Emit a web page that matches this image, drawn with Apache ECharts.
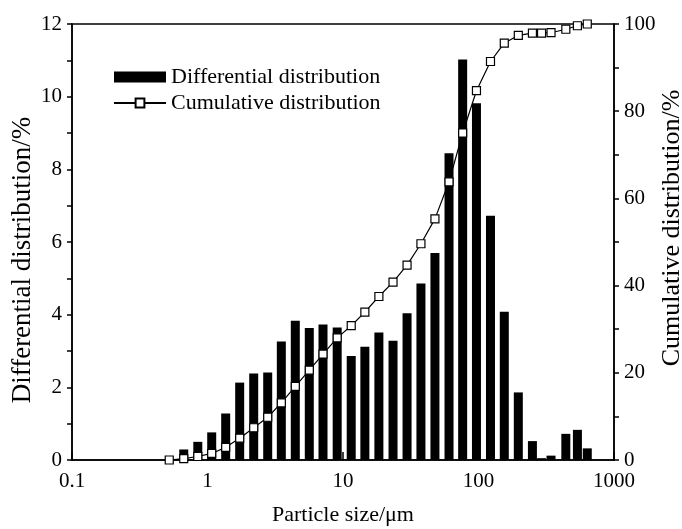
<!DOCTYPE html>
<html>
<head>
<meta charset="utf-8">
<script src="https://cdn.jsdelivr.net/npm/echarts@6/dist/echarts.min.js"></script>
<style>html,body{margin:0;padding:0;background:#fff;}#c{width:682px;height:529px;}</style>
</head>
<body>
<div id="c"></div>
<script>
// Particle sizes (µm) of the bars
const barSizes = [0.668, 0.848, 1.074, 1.362, 1.728, 2.193, 2.782, 3.506, 4.446, 5.64, 7.12, 9.06, 11.5, 14.5, 18.4, 23.4, 29.7, 37.6, 47.7, 60.6, 76.4, 96.6, 122.6, 155, 196.7, 250, 292, 343, 441, 537, 635];
// Differential distribution (%)
const diffValues = [0.29, 0.50, 0.76, 1.28, 2.13, 2.38, 2.41, 3.26, 3.83, 3.63, 3.73, 3.65, 2.86, 3.12, 3.51, 3.28, 4.04, 4.86, 5.70, 8.44, 11.02, 9.82, 6.72, 4.08, 1.86, 0.52, 0.05, 0.12, 0.72, 0.83, 0.32];
// Particle sizes (µm) of the cumulative markers
const cumSizes = [0.522, 0.668, 0.848, 1.074, 1.362, 1.728, 2.193, 2.782, 3.506, 4.446, 5.64, 7.12, 9.06, 11.5, 14.5, 18.4, 23.4, 29.7, 37.6, 47.7, 60.6, 76.4, 96.6, 122.6, 155, 196.7, 250, 292, 343, 441, 537, 635];
// Cumulative distribution (%)
const cumValues = [0, 0.3, 0.8, 1.5, 2.9, 5.0, 7.4, 9.8, 13.1, 16.9, 20.6, 24.3, 28.0, 30.8, 33.9, 37.5, 40.8, 44.7, 49.6, 55.3, 63.8, 75.0, 84.7, 91.4, 95.6, 97.4, 97.9, 97.9, 98.0, 98.8, 99.6, 100];
const xTickLabels = {0.1: '0.1', 1: '1', 10: '10', 100: '100', 1000: '1000'};

const FONT = "'Liberation Serif', 'Times New Roman', serif";
const chart = echarts.init(document.getElementById('c'), null, {renderer: 'canvas'});

const barData = barSizes.map((s, i) => [s, diffValues[i]]);
const cumData = cumSizes.map((s, i) => [s, cumValues[i]]);

const axisCommon = {
  axisLine: {show: true, lineStyle: {color: '#000', width: 1.5}},
  splitLine: {show: false},
  nameMoveOverlap: false,
  axisLabel: {color: '#000', fontFamily: FONT, fontSize: 21}
};

chart.setOption({
  animation: false,
  backgroundColor: '#fff',
  grid: {left: 72, right: 68, top: 24, bottom: 69, show: true, borderColor: '#000', borderWidth: 1.5,
         backgroundColor: 'transparent', outerBoundsMode: 'none', containLabel: false},
  legend: {
    orient: 'vertical', left: 108, top: 61, itemWidth: 52, itemHeight: 11, itemGap: 4,
    textStyle: {color: '#000', fontFamily: FONT, fontSize: 22},
    data: [{name: 'Differential distribution', icon: 'rect'}, {name: 'Cumulative distribution'}]
  },
  xAxis: Object.assign({}, axisCommon, {
    type: 'log', logBase: 10, min: 0.1, max: 1000,
    name: 'Particle size/μm', nameLocation: 'middle', nameGap: 44,
    nameTextStyle: {color: '#000', fontFamily: FONT, fontSize: 22},
    axisTick: {show: true, inside: true, length: 8, lineStyle: {color: '#000', width: 1.5}},
    axisLabel: Object.assign({}, axisCommon.axisLabel, {margin: 11, formatter: v => xTickLabels[v] || String(v)})
  }),
  yAxis: [
    Object.assign({}, axisCommon, {
      type: 'value', min: 0, max: 12, interval: 2, position: 'left',
      name: 'Differential distribution/%', nameLocation: 'middle', nameGap: 36, nameRotate: 90,
      nameTextStyle: {color: '#000', fontFamily: FONT, fontSize: 27, padding: [0, 36, 0, 0]},
      axisTick: {show: true, inside: false, length: 5, lineStyle: {color: '#000', width: 1.5}},
      minorTick: {show: true, splitNumber: 2, length: 5, lineStyle: {color: '#000', width: 1.5}},
      axisLabel: Object.assign({}, axisCommon.axisLabel, {margin: 10})
    }),
    Object.assign({}, axisCommon, {
      type: 'value', min: 0, max: 100, interval: 20, position: 'right',
      name: 'Cumulative distribution/%', nameLocation: 'middle', nameGap: 45, nameRotate: 90,
      nameTextStyle: {color: '#000', fontFamily: FONT, fontSize: 26, padding: [0, 0, 0, 28]},
      axisTick: {show: true, inside: false, length: 5, lineStyle: {color: '#000', width: 1.5}},
      minorTick: {show: true, splitNumber: 2, length: 5, lineStyle: {color: '#000', width: 1.5}},
      axisLabel: Object.assign({}, axisCommon.axisLabel, {margin: 10})
    })
  ],
  series: [
    {
      name: 'Differential distribution',
      type: 'custom',
      yAxisIndex: 0,
      itemStyle: {color: '#000'},
      data: barData,
      z: 2,
      renderItem: function (params, api) {
        const x = api.value(0), y = api.value(1);
        const p0 = api.coord([x, 0]);
        const p1 = api.coord([x, y]);
        const w = 9;
        return {
          type: 'rect',
          shape: {x: p0[0] - w / 2, y: p1[1], width: w, height: p0[1] - p1[1]},
          style: {fill: '#000'}
        };
      }
    },
    {
      name: 'Cumulative distribution',
      type: 'line',
      yAxisIndex: 1,
      data: cumData,
      symbol: 'rect',
      symbolSize: 8,
      showAllSymbol: true,
      z: 5,
      lineStyle: {color: '#000', width: 1.2},
      itemStyle: {color: '#fff', borderColor: '#000', borderWidth: 1.2}
    }
  ]
});
</script>
</body>
</html>
